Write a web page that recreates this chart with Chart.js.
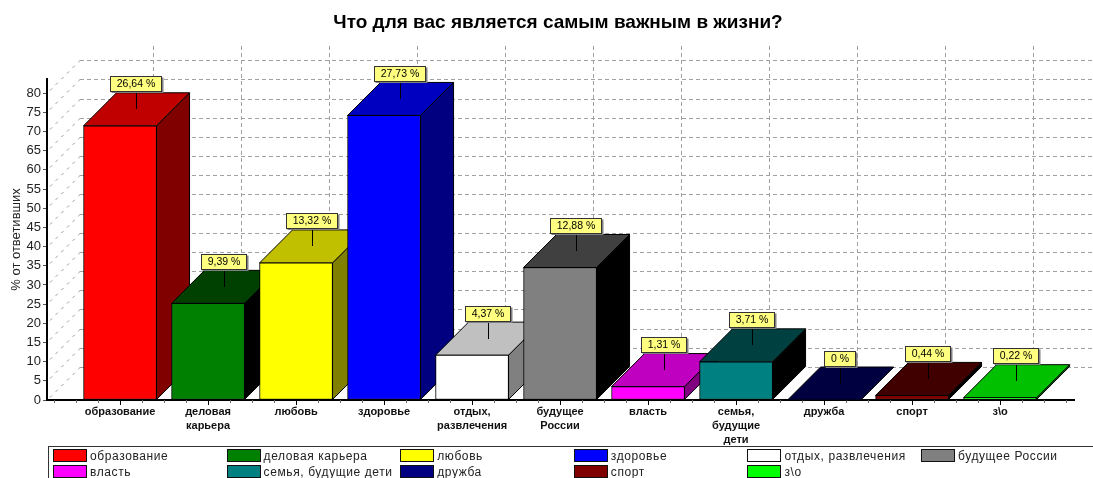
<!DOCTYPE html>
<html lang="ru">
<head>
  <meta charset="UTF-8">
  <title>Что для вас является самым важным в жизни?</title>
  <style>
    body { margin: 0; background: #fff; overflow: hidden; }
    #wrap { position: relative; width: 1093px; height: 478px; overflow: hidden; }
    #legend {
      position: absolute; left: 48px; top: 446px; width: 1060px; height: 50px;
      border: 1px solid #333; box-sizing: border-box;
      font: 12px "Liberation Sans", Arial, sans-serif; letter-spacing: 0.6px; color: #222;
    }
    .item { position: absolute; height: 14px; line-height: 14px; white-space: nowrap; }
    .swatch {
      display: inline-block; width: 32px; height: 11px; border: 1px solid #111;
      margin-right: 3px; vertical-align: -2px;
    }
  </style>
</head>
<body>
  <div id="wrap">
    <canvas id="chart" width="1093" height="478"></canvas>
    <div id="legend"></div>
  </div>

  <script src="https://cdn.jsdelivr.net/npm/chart.js"></script>
  <script>
    const titleText = 'Что для вас является самым важным в жизни?';
    const yAxisTitle = '% от ответивших';
    const categories = ['образование', 'деловая карьера', 'любовь', 'здоровье', 'отдых, развлечения',
      'будущее России', 'власть', 'семья, будущие дети', 'дружба', 'спорт', 'з\\о'];
    const tickLabels = [['образование'], ['деловая', 'карьера'], ['любовь'], ['здоровье'], ['отдых,', 'развлечения'],
      ['будущее', 'России'], ['власть'], ['семья,', 'будущие', 'дети'], ['дружба'], ['спорт'], ['з\\о']];
    const values = [71.5, 25.2, 35.75, 74.2, 11.7, 34.55, 3.5, 9.95, 0, 1.2, 0.6];
    const callouts = ['26,64 %', '9,39 %', '13,32 %', '27,73 %', '4,37 %', '12,88 %', '1,31 %', '3,71 %', '0 %', '0,44 %', '0,22 %'];
    const yTicks = [0, 5, 10, 15, 20, 25, 30, 35, 40, 45, 50, 55, 60, 65, 70, 75, 80];

    const frontColors = ['#ff0000', '#008000', '#ffff00', '#0000ff', '#ffffff', '#808080', '#ff00ff', '#008080', '#000080', '#800000', '#00ff00'];
    const topColors = ['#c00000', '#004000', '#c0c000', '#0000c0', '#c0c0c0', '#404040', '#c000c0', '#004040', '#000040', '#400000', '#00c000'];
    const sideColors = ['#800000', '#000000', '#808000', '#000080', '#808080', '#000000', '#800080', '#000000', '#000000', '#000000', '#008000'];

    const depthX = 33;
    const depthY = 33;

    function poly(ctx, pts, fill) {
      ctx.beginPath();
      ctx.moveTo(pts[0][0], pts[0][1]);
      pts.slice(1).forEach(p => ctx.lineTo(p[0], p[1]));
      ctx.closePath();
      ctx.fillStyle = fill;
      ctx.fill();
      ctx.lineWidth = 1;
      ctx.strokeStyle = '#000';
      ctx.stroke();
    }

    function line(ctx, x1, y1, x2, y2) {
      ctx.beginPath();
      ctx.moveTo(x1, y1);
      ctx.lineTo(x2, y2);
      ctx.stroke();
    }

    // back wall, dashed floor lines and the depth faces of the bars
    const wallAndDepth = {
      id: 'wallAndDepth',
      afterLayout(chart) {
        chart.titleBlock.left += 21;
        chart.titleBlock.right += 21;
      },
      beforeDatasetsDraw(chart) {
        const ctx = chart.ctx;
        const xs = chart.scales.x;
        const ys = chart.scales.y;
        ctx.save();
        ctx.lineWidth = 1;

        // small ticks between the categories
        ctx.strokeStyle = '#666';
        for (let v = -0.75; v <= 10.75; v += 0.25) {
          if (v % 1 !== 0) {
            const px = Math.round(xs.getPixelForValue(v)) + 0.5;
            line(ctx, px, ys.bottom, px, ys.bottom + 3);
          }
        }

        yTicks.forEach(v => {
          const py = Math.round(ys.getPixelForValue(v)) + 0.5;
          ctx.strokeStyle = '#a0a0a0';
          ctx.setLineDash([4, 3]);
          line(ctx, xs.left + depthX, py - depthY, chart.width, py - depthY);
          ctx.strokeStyle = '#999';
          ctx.setLineDash([3, 5]);
          line(ctx, xs.left + 3, py - 3, xs.left + depthX, py - depthY);
        });
        ctx.strokeStyle = '#a0a0a0';
        ctx.setLineDash([4, 3]);
        categories.forEach((c, i) => {
          const px = Math.round(xs.getPixelForValue(i)) + depthX + 0.5;
          line(ctx, px, ys.top - depthY, px, ys.bottom - depthY);
        });
        ctx.setLineDash([]);

        chart.getDatasetMeta(0).data.forEach((bar, i) => {
          const l = bar.x - bar.width / 2;
          const r = bar.x + bar.width / 2;
          poly(ctx, [[r, bar.base], [r + depthX, bar.base - depthY], [r + depthX, bar.y - depthY], [r, bar.y]], sideColors[i]);
          poly(ctx, [[l, bar.y], [l + depthX, bar.y - depthY], [r + depthX, bar.y - depthY], [r, bar.y]], topColors[i]);
        });
        ctx.restore();
      },
      afterDatasetsDraw(chart) {
        const ctx = chart.ctx;
        ctx.save();
        ctx.font = '10.5px "Liberation Sans", Arial, sans-serif';
        ctx.textBaseline = 'middle';
        ctx.textAlign = 'center';
        chart.getDatasetMeta(0).data.forEach((bar, i) => {
          const cx = Math.round(bar.x + depthX / 2) - 0.5;
          const tip = Math.round(bar.y - depthY / 2);
          const w = Math.ceil(ctx.measureText(callouts[i]).width) + 12;
          const boxTop = tip - 33 + 0.5;
          const boxLeft = Math.round(cx - w / 2) - 0.5;
          ctx.strokeStyle = '#000';
          ctx.lineWidth = 1;
          line(ctx, cx, boxTop + 15, cx, tip);
          ctx.fillStyle = '#808080';
          ctx.fillRect(boxLeft + 1, boxTop + 1, w + 1, 15.5);
          ctx.fillStyle = '#ffff80';
          ctx.fillRect(boxLeft, boxTop, w, 15);
          ctx.strokeStyle = '#333';
          ctx.strokeRect(boxLeft, boxTop, w, 15);
          ctx.fillStyle = '#000';
          ctx.fillText(callouts[i], boxLeft + w / 2, boxTop + 8);
        });
        ctx.restore();
      }
    };

    new Chart(document.getElementById('chart'), {
      type: 'bar',
      data: {
        datasets: [{
          data: values.map((v, i) => ({ x: i, y: v })),
          backgroundColor: frontColors,
          borderColor: '#000',
          borderWidth: 1,
          borderSkipped: false,
          barThickness: 73
        }]
      },
      options: {
        responsive: false,
        animation: false,
        layout: { padding: { right: 19 } },
        plugins: {
          legend: { display: false },
          tooltip: { enabled: false },
          title: {
            display: true,
            text: titleText,
            color: '#000',
            font: { family: '"Liberation Sans", Arial, sans-serif', size: 19, weight: 'bold' },
            padding: { top: 11.6, bottom: 44.6 }
          }
        },
        scales: {
          x: {
            type: 'linear',
            offset: false,
            min: -0.83,
            max: 10.84,
            afterBuildTicks: scale => { scale.ticks = categories.map((c, i) => ({ value: i })); },
            afterFit: scale => { scale.height = 78; },
            border: { color: '#000', width: 2 },
            grid: { offset: false, drawOnChartArea: false, color: '#000', tickLength: 5 },
            ticks: {
              autoSkip: false,
              maxRotation: 0,
              padding: 0,
              color: '#111',
              font: { family: '"Liberation Sans", Arial, sans-serif', size: 11, weight: 'bold', lineHeight: 1.27 },
              callback: value => tickLabels[value]
            }
          },
          y: {
            min: 0,
            max: 83.7,
            afterBuildTicks: scale => { scale.ticks = yTicks.map(v => ({ value: v })); },
            afterFit: scale => { scale.width = 47; },
            border: { color: '#000', width: 2 },
            grid: { drawOnChartArea: false, color: '#555', tickLength: 4 },
            title: {
              display: true,
              text: yAxisTitle,
              color: '#222',
              font: { family: '"Liberation Sans", Arial, sans-serif', size: 13 },
              padding: { top: 9, bottom: 0 }
            },
            ticks: {
              padding: 2,
              color: '#222',
              font: { family: '"Liberation Sans", Arial, sans-serif', size: 13 }
            }
          }
        }
      },
      plugins: [wallAndDepth]
    });

    // legend box: six columns, two rows, same order as the bars
    const legendBox = document.getElementById('legend');
    categories.forEach((name, i) => {
      const item = document.createElement('div');
      item.className = 'item';
      item.style.left = (4 + (i % 6) * 173.6) + 'px';
      item.style.top = (2 + Math.floor(i / 6) * 16) + 'px';
      const swatch = document.createElement('span');
      swatch.className = 'swatch';
      swatch.style.background = frontColors[i];
      item.appendChild(swatch);
      item.appendChild(document.createTextNode(name));
      legendBox.appendChild(item);
    });
  </script>
</body>
</html>
